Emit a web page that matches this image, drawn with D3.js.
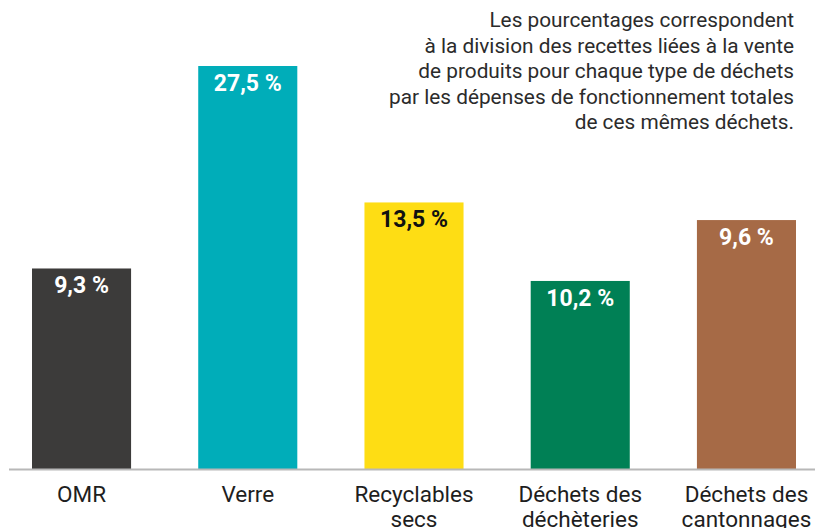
<!DOCTYPE html>
<html>
<head>
<meta charset="utf-8">
<script src="https://cdn.jsdelivr.net/npm/d3@7"></script>
<style>
  body { margin: 0; background: #fff; }
  svg { display: block; font-family: Roboto, "Noto Sans", sans-serif; }
</style>
</head>
<body>
<div id="chart"></div>
<script>
const categories = [["OMR"], ["Verre"], ["Recyclables", "secs"], ["Déchets des", "déchèteries"], ["Déchets des", "cantonnages"]];
const values = [9.3, 27.5, 13.5, 10.2, 9.6];
// bar heights as drawn in the reference (same units as the Verre bar)
const barLevels = [13.7, 27.5, 18.2, 12.85, 17.0];
const colors = ["#3c3b3a", "#00adb9", "#fedd14", "#008055", "#a66a46"];
const labelColors = ["#fff", "#fff", "#111", "#fff", "#fff"];
const note = [
  "Les pourcentages correspondent",
  "à la division des recettes liées à la vente",
  "de produits pour chaque type de déchets",
  "par les dépenses de fonctionnement totales",
  "de ces mêmes déchets."
];

const width = 815;
const height = 528;
const baseY = 469.5;

const svg = d3.select("#chart").append("svg")
  .attr("width", width)
  .attr("height", height);

const x = d3.scaleBand()
  .domain(d3.range(categories.length))
  .range([32, 796])
  .paddingInner(0.404)
  .paddingOuter(0);

const y = d3.scaleLinear()
  .domain([0, 27.5])
  .range([baseY, 66]);

svg.selectAll("rect.bar")
  .data(values)
  .enter()
  .append("rect")
  .attr("class", "bar")
  .attr("x", (d, i) => x(i))
  .attr("y", (d, i) => y(barLevels[i]))
  .attr("width", x.bandwidth())
  .attr("height", (d, i) => baseY - y(barLevels[i]))
  .style("fill", (d, i) => colors[i]);

svg.append("line")
  .attr("x1", 9)
  .attr("x2", width)
  .attr("y1", baseY)
  .attr("y2", baseY)
  .style("stroke", "#b8b8b8")
  .style("stroke-width", 2);

svg.selectAll("text.value")
  .data(values)
  .enter()
  .append("text")
  .attr("class", "value")
  .attr("x", (d, i) => x(i) + x.bandwidth() / 2)
  .attr("y", (d, i) => y(barLevels[i]) + 25)
  .attr("text-anchor", "middle")
  .style("font-size", "23px")
  .style("font-weight", "bold")
  .style("fill", (d, i) => labelColors[i])
  .text((d) => d.toFixed(1).replace(".", ",") + " %");

const cat = svg.selectAll("text.cat")
  .data(categories)
  .enter()
  .append("text")
  .attr("class", "cat")
  .attr("text-anchor", "middle")
  .style("font-size", "22.5px")
  .style("fill", "#1e1e1e");

cat.selectAll("tspan")
  .data((d, i) => d.map((t) => ({ t, i })))
  .enter()
  .append("tspan")
  .attr("x", (d) => x(d.i) + x.bandwidth() / 2)
  .attr("y", (d, j) => 502 + j * 25)
  .text((d) => d.t);

svg.append("g")
  .selectAll("text")
  .data(note)
  .enter()
  .append("text")
  .attr("x", 794)
  .attr("y", (d, i) => 27 + i * 25.5)
  .attr("text-anchor", "end")
  .style("font-size", "20.8px")
  .style("fill", "#2b2b2b")
  .text((d) => d);
</script>
</body>
</html>
